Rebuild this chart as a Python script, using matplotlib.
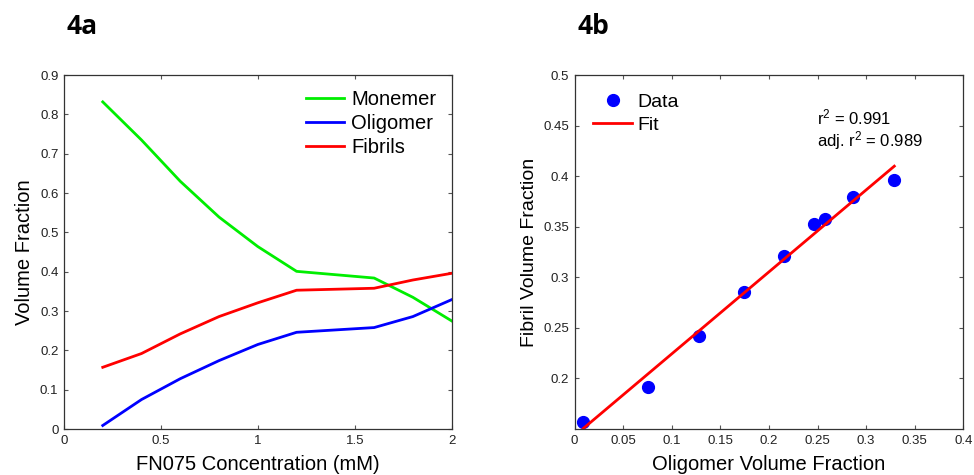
import numpy as np
from matplotlib import pyplot as plt

plt.rcParams['font.family'] = ['Liberation Sans', 'DejaVu Sans']

# panel 4a: volume fractions vs concentration
conc = [0.2, 0.4, 0.6, 0.8, 1.0, 1.2, 1.6, 1.8, 2.0]
monomer = [0.832, 0.735, 0.630, 0.539, 0.464, 0.401, 0.384, 0.335, 0.275]
oligomer = [0.009, 0.075, 0.128, 0.174, 0.215, 0.246, 0.258, 0.286, 0.329]
fibrils = [0.157, 0.192, 0.242, 0.286, 0.321, 0.353, 0.358, 0.379, 0.396]

fig = plt.figure(figsize=(9.74, 4.75), dpi=100)

ax1 = fig.add_axes([0.0657, 0.0968, 0.398, 0.745])
ax1.plot(conc, monomer, color='#00ee00', lw=2, label='Monemer')
ax1.plot(conc, oligomer, color='#0000ff', lw=2, label='Oligomer')
ax1.plot(conc, fibrils, color='#ff0000', lw=2, label='Fibrils')
ax1.set_xlim(0, 2)
ax1.set_ylim(0, 0.9)
ax1.set_xticks([0, 0.5, 1, 1.5, 2])
ax1.set_xticklabels(['0', '0.5', '1', '1.5', '2'])
ax1.set_yticks(np.arange(0, 0.91, 0.1))
ax1.set_yticklabels(['0', '0.1', '0.2', '0.3', '0.4', '0.5', '0.6', '0.7', '0.8', '0.9'])
ax1.set_xlabel('FN075 Concentration (mM)', fontsize=14.5, labelpad=6)
ax1.set_ylabel('Volume Fraction', fontsize=14.5, labelpad=4)
ax1.legend(loc='upper right', frameon=False, fontsize=14.5, handlelength=1.9,
           handletextpad=0.35, labelspacing=0.25, borderaxespad=0.35)

# panel 4b: fibril vs oligomer with linear fit
olig_x = oligomer
fib_y = fibrils
coef = np.polyfit(olig_x, fib_y, 1)
fit_x = np.array([min(olig_x), max(olig_x)])

ax2 = fig.add_axes([0.590, 0.0968, 0.399, 0.745])
ax2.plot(olig_x, fib_y, 'o', color='#0000ff', ms=8.5, label='Data')
ax2.plot(fit_x, np.polyval(coef, fit_x), color='#ff0000', lw=2, label='Fit')
ax2.set_xlim(0, 0.4)
ax2.set_ylim(0.15, 0.5)
ax2.set_xticks(np.arange(0, 0.41, 0.05))
ax2.set_xticklabels(['0', '0.05', '0.1', '0.15', '0.2', '0.25', '0.3', '0.35', '0.4'])
ax2.set_yticks([0.2, 0.25, 0.3, 0.35, 0.4, 0.45, 0.5])
ax2.set_yticklabels(['0.2', '0.25', '0.3', '0.35', '0.4', '0.45', '0.5'])
ax2.set_xlabel('Oligomer Volume Fraction', fontsize=14.5, labelpad=6)
ax2.set_ylabel('Fibril Volume Fraction', fontsize=14, labelpad=4)
ax2.legend(loc='upper left', frameon=False, fontsize=14, handlelength=2.0,
           handletextpad=0.25, labelspacing=0.25, borderaxespad=0.35,
           borderpad=0.6)
ax2.text(0.249, 0.458, '$\\mathregular{r^2}$ = 0.991', fontsize=12, va='center')
ax2.text(0.249, 0.435, 'adj. $\\mathregular{r^2}$ = 0.989', fontsize=12, va='center')

for ax in (ax1, ax2):
    ax.tick_params(direction='in', top=True, right=True, labelsize=9.5,
                   length=3, color='#555555', labelcolor='#222222', pad=4)
    for s in ax.spines.values():
        s.set_color('#333333')
        s.set_linewidth(0.9)

fig.text(0.068, 0.944, '4a', fontsize=19, fontweight='bold', family='Open Sans', va='center')
fig.text(0.593, 0.944, '4b', fontsize=19, fontweight='bold', family='Open Sans', va='center')

fig.savefig('out.png', dpi=100)
